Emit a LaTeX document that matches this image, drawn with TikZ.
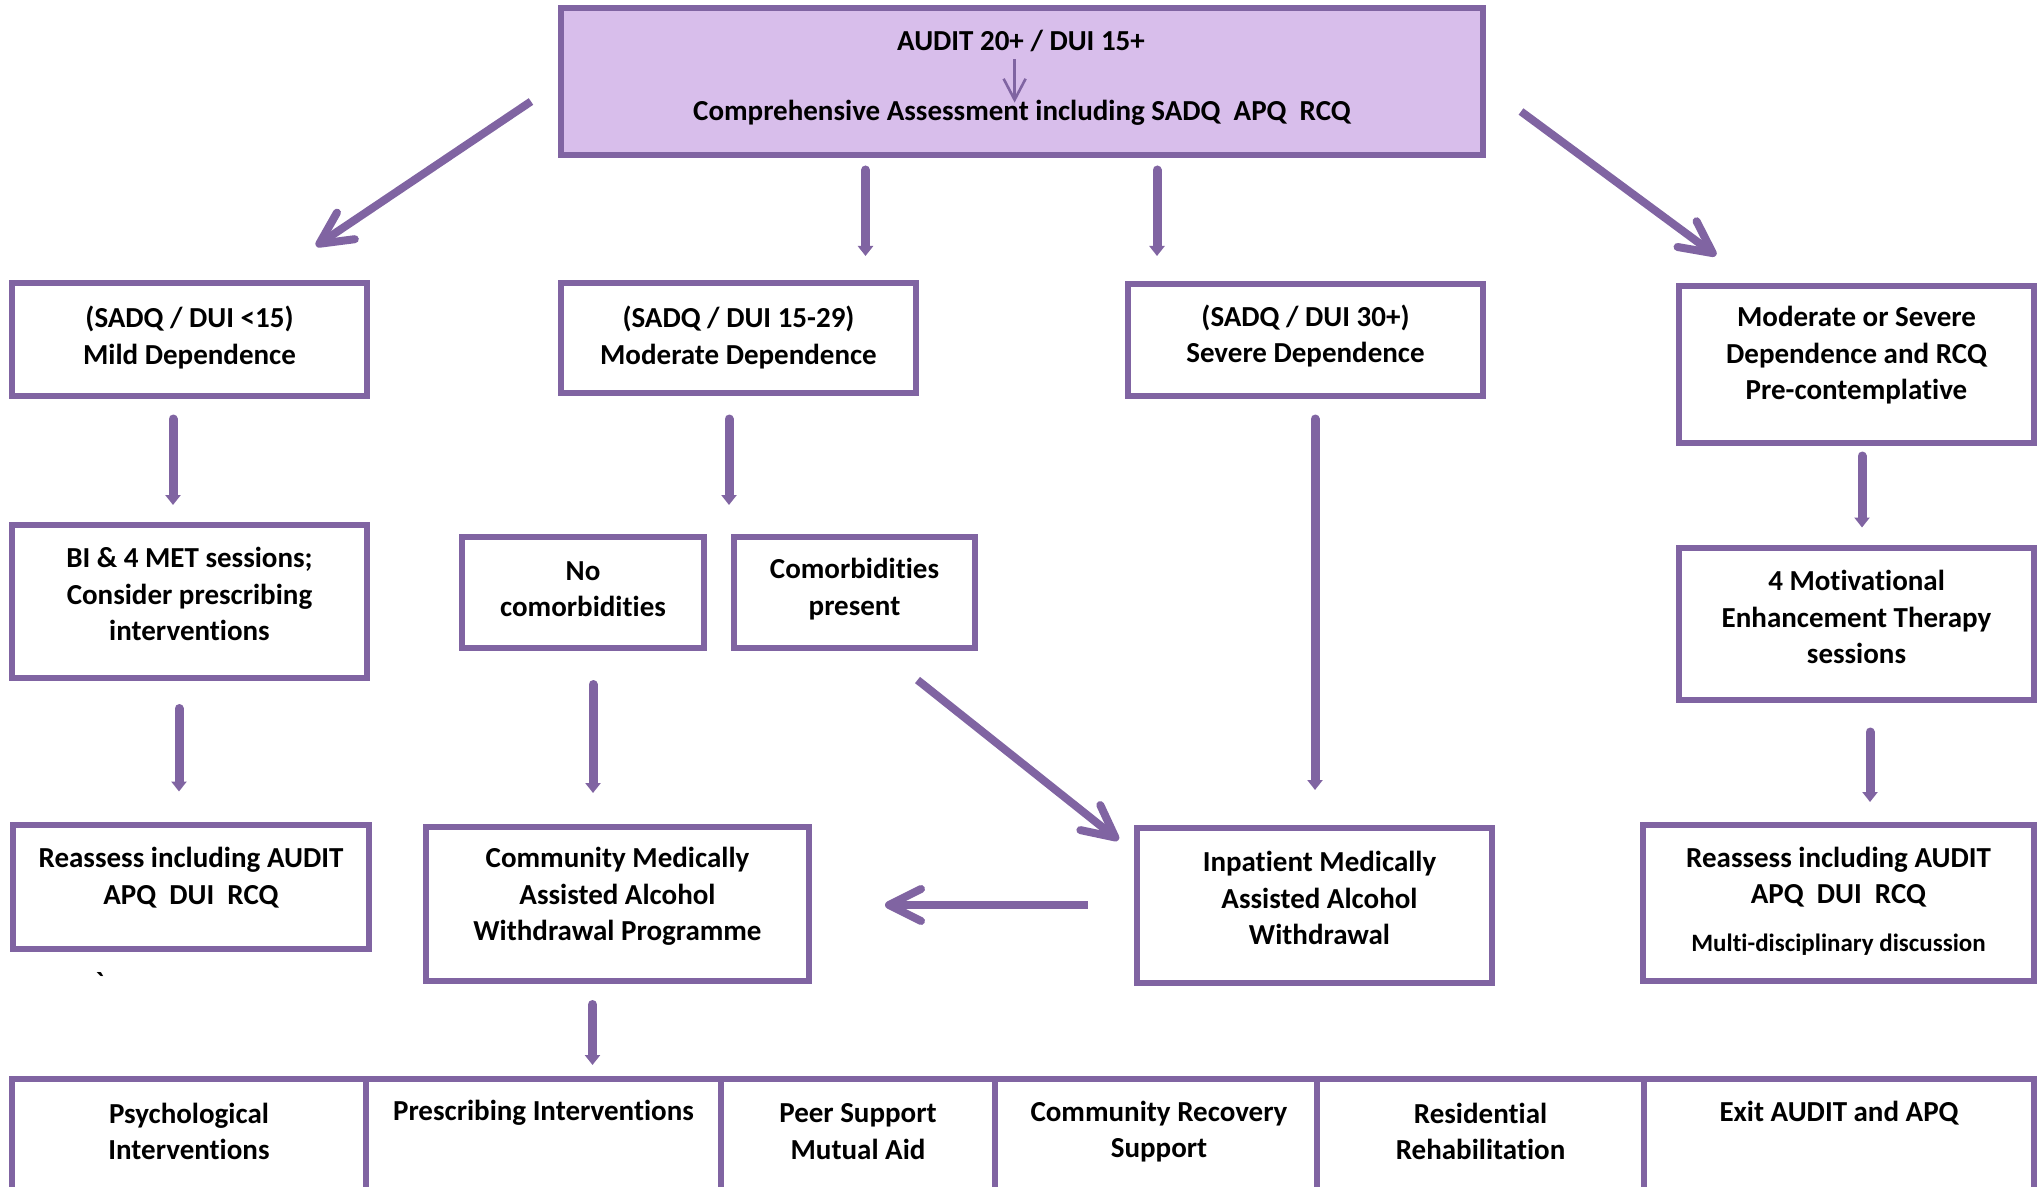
\documentclass[tikz,border=0pt]{standalone}
\usepackage{fontspec}
\setmainfont{Carlito}[Ligatures={NoCommon}]
\usetikzlibrary{arrows.meta,fit}

\definecolor{lilac}{RGB}{128,100,162}
\definecolor{lilacfill}{RGB}{216,190,235}

\tikzset{
  box/.style={draw=lilac, line width=2.75pt, inner sep=0pt, outer sep=0pt},
  txt/.style={align=center, inner sep=0pt, yshift=-1.3pt, font=\fontsize{14.5}{18.25}\selectfont\bfseries},
  note/.style={align=center, inner sep=0pt, yshift=-1.3pt, font=\fontsize{12.5}{15}\selectfont\bfseries},
  varr/.style={draw=lilac, line width=4.5pt, line cap=round, -{Triangle[length=5pt,width=7.5pt]}},
  darr/.style={draw=lilac, line width=4pt, -{Straight Barb[length=16pt,width=16pt,round]}},
  sarr/.style={draw=lilac, line width=1.3pt, -{Straight Barb[length=10.5pt,width=11pt]}},
}

\begin{document}
\begin{tikzpicture}[x=0.5pt,y=0.5pt,yscale=-1]
\useasboundingbox (0,0) rectangle (2044,1187);
\clip (0,0) rectangle (2044,1187);

%Shape: Rectangle [top]
\node[box, fill=lilacfill, fit={(561,8) (1483,155)}] (top) {};
% Text Node
\node[txt] (audit) at (1021,38) {AUDIT 20+ / DUI 15+};
% Text Node
\node[txt] (assess) at (1022,110) {Comprehensive Assessment including SADQ~~APQ~~RCQ};
\draw[sarr, shorten <=3.8pt, shorten >=-1.5pt] ([xshift=-3.2pt]audit.south) -- ([xshift=-3.7pt]assess.north);

%Shape: Rectangle [dependence]
\node[box, fit={(12,283) (367,396)}] (mild) {};
\node[box, fit={(561,283) (916,393)}] (moderate) {};
\node[box, fit={(1128,284) (1483,396)}] (severe) {};
\node[box, fit={(1679,286) (2034,443)}] (modsev) {};
% Text Node
\node[txt, yshift=2.2pt] (mildtxt) at (mild) {(SADQ / DUI <15)\\Mild Dependence};
% Text Node
\node[txt, yshift=1.6pt] (moderatetxt) at (moderate) {(SADQ / DUI 15-29)\\Moderate Dependence};
% Text Node
\node[txt, yshift=3.3pt] (severetxt) at (severe) {(SADQ / DUI 30+)\\Severe Dependence};
% Text Node
\node[txt, yshift=5.9pt] (modsevtxt) at (modsev) {Moderate or Severe\\Dependence and RCQ\\Pre-contemplative};

%Shape: Rectangle [interventions]
\node[box, fit={(12,525) (367,678)}] (bi) {};
\node[box, fit={(462,537) (704,648)}] (nocom) {};
\node[box, fit={(734,537) (975,648)}] (comorb) {};
\node[box, fit={(1679,548) (2034,700)}] (met) {};
% Text Node
\node[txt, yshift=4.9pt] (bitxt) at (bi) {BI \& 4 MET sessions;\\Consider prescribing\\interventions};
% Text Node
\node[txt, yshift=3pt] (nocomtxt) at (nocom) {No\\comorbidities};
% Text Node
\node[txt, yshift=3pt] (comorbtxt) at (comorb) {Comorbidities\\present};
% Text Node
\node[txt, yshift=4.7pt] (mettxt) at (met) {4 Motivational\\Enhancement Therapy\\sessions};

%Shape: Rectangle [withdrawal and reassessment]
\node[box, fit={(13,825) (369,949)}] (reA) {};
\node[box, fit={(426,827) (809,981)}] (cmaw) {};
\node[box, fit={(1137,828) (1492,983)}] (imaw) {};
\node[box, fit={(1643,825) (2034,981)}] (reB) {};
% Text Node
\node[txt, yshift=6.1pt] (reAtxt) at (reA) {Reassess including AUDIT\\APQ~~DUI~~RCQ};
% Text Node
\node[txt, yshift=5pt] (cmawtxt) at (cmaw) {Community Medically\\Assisted Alcohol\\Withdrawal Programme};
% Text Node
\node[txt, yshift=4.9pt, xshift=2.5pt] (imawtxt) at (imaw) {Inpatient Medically\\Assisted Alcohol\\Withdrawal};
% Text Node
\node[txt, yshift=14.3pt] (reBtxt) at (reB) {Reassess including AUDIT\\APQ~~DUI~~RCQ};
% Text Node
\node[note, yshift=-19.6pt] (reBnote) at (reB) {Multi-disciplinary discussion};
% Text Node
\node[txt] (tick) at (100,980) {\textasciigrave};

%Shape: Rectangle [services, cut by the page]
\node[box, fit={(12,1079) (366,1240)}] (psych) {};
\node[box, fit={(366,1079) (721,1240)}] (presc) {};
\node[box, fit={(721,1079) (995,1240)}] (peer) {};
\node[box, fit={(995,1079) (1317,1240)}] (crs) {};
\node[box, fit={(1317,1079) (1644,1240)}] (resi) {};
\node[box, fit={(1644,1079) (2034,1240)}] (exit) {};
% Text Node
\node[txt, yshift=-25pt] (psychtxt) at (psych.north) {Psychological\\Interventions};
% Text Node
\node[txt, yshift=-15.8pt] (presctxt) at (presc.north) {Prescribing Interventions};
% Text Node
\node[txt, yshift=-25pt] (peertxt) at (peer.north) {Peer Support\\Mutual Aid};
% Text Node
\node[txt, yshift=-25pt, xshift=1.5pt] (crstxt) at (crs.north) {Community Recovery\\Support};
% Text Node
\node[txt, yshift=-25pt] (resitxt) at (resi.north) {Residential\\Rehabilitation};
% Text Node
\node[txt, yshift=-15.8pt] (exittxt) at (exit.north) {Exit AUDIT and APQ};

%Straight Lines [arrow ends]
\coordinate (topmild1) at (531,101.5);   \coordinate (topmild2) at (316,246);
\coordinate (topmod1) at (865.5,170);    \coordinate (topmod2) at (865.5,256);
\coordinate (topsev1) at (1157,170);     \coordinate (topsev2) at (1157,256);
\coordinate (topms1) at (1521,111.5);    \coordinate (topms2) at (1716,255.5);
\coordinate (mildbi1) at (173,419);      \coordinate (mildbi2) at (173,505);
\coordinate (modcom1) at (729,419);      \coordinate (modcom2) at (729,505);
\coordinate (sevim1) at (1315,419);      \coordinate (sevim2) at (1315,790);
\coordinate (msmet1) at (1862,456);      \coordinate (msmet2) at (1862,527.5);
\coordinate (bire1) at (179,708.5);      \coordinate (bire2) at (179,791.5);
\coordinate (nocm1) at (593,684.5);      \coordinate (nocm2) at (593,793);
\coordinate (comim1) at (917.5,680);     \coordinate (comim2) at (1118.5,840);
\coordinate (metre1) at (1870,732);      \coordinate (metre2) at (1870,802);
\coordinate (imcm1) at (1087.5,905);     \coordinate (imcm2) at (885,905);
\coordinate (cmsv1) at (592.5,1004.5);   \coordinate (cmsv2) at (592.5,1065);

\draw[darr] (topmild1) -- (topmild2);
\draw[varr] (topmod1) -- (topmod2);
\draw[varr] (topsev1) -- (topsev2);
\draw[darr] (topms1) -- (topms2);
\draw[varr] (mildbi1) -- (mildbi2);
\draw[varr] (modcom1) -- (modcom2);
\draw[varr] (sevim1) -- (sevim2);
\draw[varr] (msmet1) -- (msmet2);
\draw[varr] (bire1) -- (bire2);
\draw[varr] (nocm1) -- (nocm2);
\draw[darr] (comim1) -- (comim2);
\draw[varr] (metre1) -- (metre2);
\draw[darr] (imcm1) -- (imcm2);
\draw[varr] (cmsv1) -- (cmsv2);
\end{tikzpicture}
\end{document}
